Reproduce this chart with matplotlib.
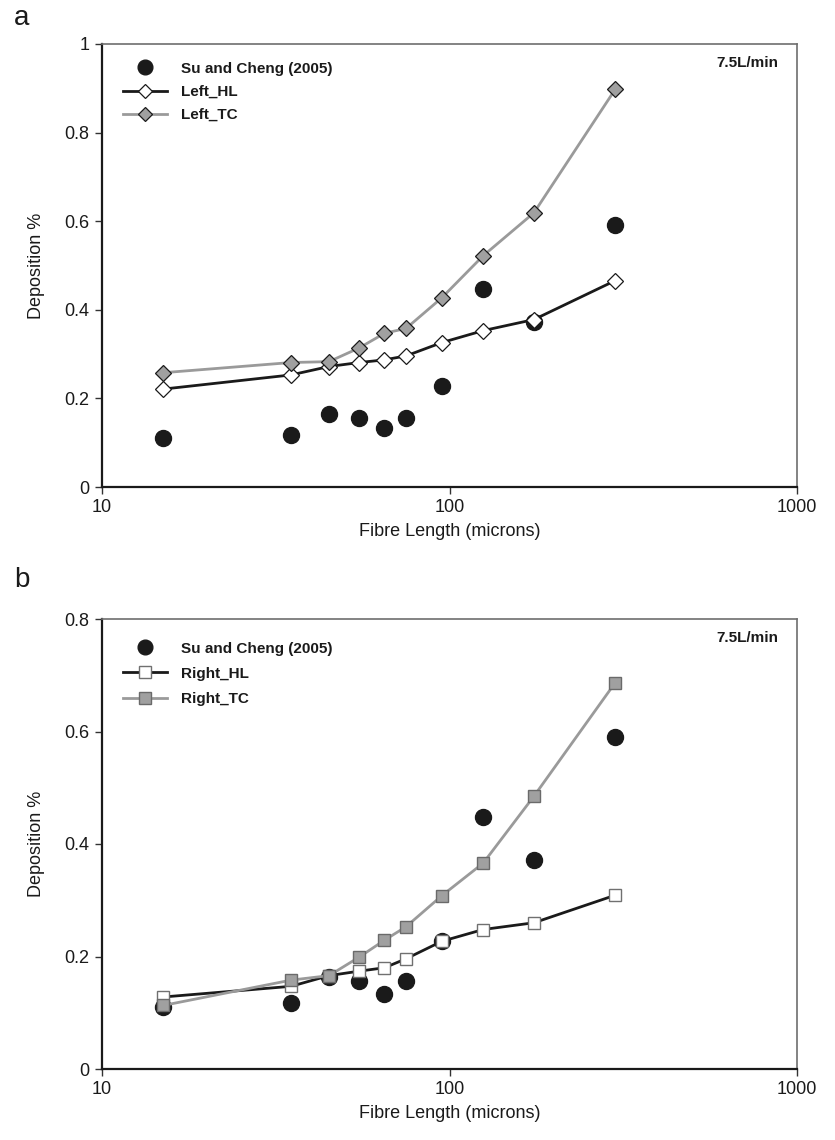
import matplotlib
matplotlib.use("Agg")
import matplotlib.pyplot as plt
from matplotlib.ticker import FixedLocator, FuncFormatter, NullLocator

plt.rcParams['font.family'] = ['Liberation Sans', 'DejaVu Sans']

fibre_length = [15, 35, 45, 55, 65, 75, 95, 125, 175, 300]
su_cheng = [0.110, 0.117, 0.164, 0.156, 0.134, 0.156, 0.228, 0.448, 0.372, 0.591]
left_hl = [0.221, 0.253, 0.272, 0.281, 0.287, 0.296, 0.326, 0.353, 0.378, 0.466]
left_tc = [0.258, 0.281, 0.283, 0.314, 0.347, 0.358, 0.427, 0.522, 0.619, 0.898]
right_hl = [0.128, 0.147, 0.166, 0.174, 0.180, 0.196, 0.227, 0.248, 0.260, 0.309]
right_tc = [0.113, 0.158, 0.166, 0.199, 0.229, 0.253, 0.308, 0.366, 0.485, 0.687]

W, H = 835, 1140
fig = plt.figure(figsize=(W / 100, H / 100), dpi=100)

def axes_px(left, top, right, bottom):
    return fig.add_axes([left / W, 1 - bottom / H, (right - left) / W, (bottom - top) / H])

ax1 = axes_px(102, 44, 797, 487)
ax2 = axes_px(102, 619, 797, 1069)

def style(ax, ymax, yticks):
    ax.set_xscale('log')
    ax.set_xlim(10, 1000)
    ax.set_ylim(0, ymax)
    ax.xaxis.set_major_locator(FixedLocator([10, 100, 1000]))
    ax.xaxis.set_minor_locator(NullLocator())
    ax.xaxis.set_major_formatter(FuncFormatter(lambda v, p: '%d' % v))
    ax.yaxis.set_major_locator(FixedLocator(yticks))
    ax.yaxis.set_major_formatter(FuncFormatter(lambda v, p: '%g' % v))
    for s in ['left', 'bottom']:
        ax.spines[s].set_color('#1a1a1a')
        ax.spines[s].set_linewidth(1.6)
    for s in ['top', 'right']:
        ax.spines[s].set_color('#6e6e6e')
        ax.spines[s].set_linewidth(1.2)
    ax.tick_params(axis='both', direction='out', length=5, width=1.0,
                   colors='#333333', labelcolor='#1a1a1a', labelsize=13, pad=4)
    ax.set_xlabel('Fibre Length (microns)', fontsize=13, color='#1a1a1a', labelpad=5)
    ax.set_ylabel('Deposition %', fontsize=13, color='#1a1a1a', labelpad=14)
    ax.text(0.973, 0.957, '7.5L/min', transform=ax.transAxes, ha='right', va='center',
            fontsize=11, fontweight='bold', color='#1a1a1a')

# Panel a
ax1.plot(fibre_length, su_cheng, linestyle='none', marker='o', markersize=11.5,
         color='#1a1a1a', label='Su and Cheng (2005)', zorder=3)
ax1.plot(fibre_length, left_hl, color='#1a1a1a', linewidth=2.0, marker='D', markersize=8,
         markerfacecolor='white', markeredgecolor='#1a1a1a', markeredgewidth=0.9,
         label='Left_HL', zorder=4)
ax1.plot(fibre_length, left_tc, color='#9a9a9a', linewidth=2.0, marker='D', markersize=8,
         markerfacecolor='#a0a0a0', markeredgecolor='#1a1a1a', markeredgewidth=0.9,
         label='Left_TC', zorder=5)
style(ax1, 1.0, [0, 0.2, 0.4, 0.6, 0.8, 1.0])

# Panel b
ax2.plot(fibre_length, su_cheng, linestyle='none', marker='o', markersize=11.5,
         color='#1a1a1a', label='Su and Cheng (2005)', zorder=3)
ax2.plot(fibre_length, right_hl, color='#1a1a1a', linewidth=2.0, marker='s', markersize=9,
         markerfacecolor='white', markeredgecolor='#707070', markeredgewidth=1.0,
         label='Right_HL', zorder=4)
ax2.plot(fibre_length, right_tc, color='#9a9a9a', linewidth=2.0, marker='s', markersize=9,
         markerfacecolor='#a0a0a0', markeredgecolor='#6a6a6a', markeredgewidth=1.0,
         label='Right_TC', zorder=5)
style(ax2, 0.8, [0, 0.2, 0.4, 0.6, 0.8])

for ax, sp, top in [(ax1, 0.6, 0.96), (ax2, 0.74, 0.95)]:
    leg = ax.legend(loc='upper left', bbox_to_anchor=(0.03, top), frameon=False,
                    prop={'weight': 'bold', 'size': 11}, handlelength=2.9,
                    handletextpad=0.9, labelspacing=sp, borderpad=0, borderaxespad=0,
                    markerscale=0.92)
    for t in leg.get_texts():
        t.set_color('#1a1a1a')

fig.text(22 / W, 1 - 18 / H, 'a', fontsize=20, ha='center', va='center', color='#1a1a1a')
fig.text(22 / W, 1 - 580 / H, 'b', fontsize=20, ha='center', va='center', color='#1a1a1a')

fig.savefig('out.png', dpi=100)
